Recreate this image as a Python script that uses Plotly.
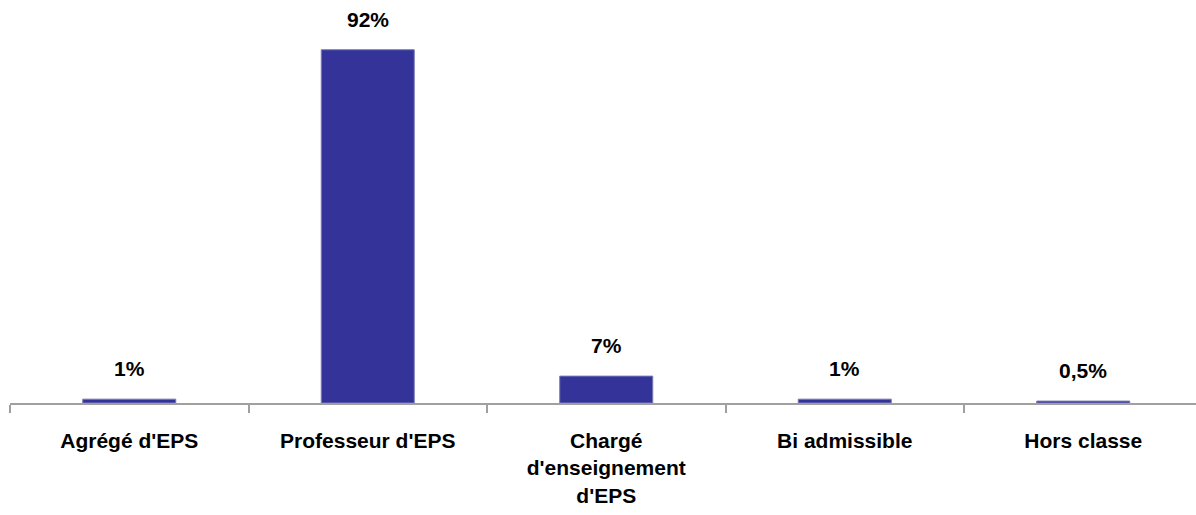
import plotly.graph_objects as go

categories = ["Agrégé d'EPS", "Professeur d'EPS", "Chargé<br>d'enseignement<br>d'EPS", "Bi admissible", "Hors classe"]
values = [1, 92, 7, 1, 0.5]
value_labels = ["1%", "92%", "7%", "1%", "0,5%"]

FONT = "Liberation Sans, Arial, sans-serif"

fig = go.Figure()
fig.add_trace(go.Bar(
    x=categories, y=values, width=0.39,
    marker=dict(color="#333399", line=dict(color="#7a7ab4", width=1)),
    hoverinfo="skip",
))
for c, v, t in zip(categories, values, value_labels):
    fig.add_annotation(x=c, y=v, text=t, showarrow=False, yanchor="bottom", yshift=17,
                       font=dict(family=FONT, size=21, color="#000000", weight="bold"))

W = 1196
ml = 10
cat_w = 238.5
fig.update_layout(
    width=W, height=515,
    margin=dict(l=ml, r=0, t=19, b=112),
    paper_bgcolor="white", plot_bgcolor="white",
    showlegend=False,
    font=dict(family=FONT, size=21, color="#000000"),
    xaxis=dict(type="category", range=[-0.5, -0.5 + (W - ml) / cat_w],
               showline=True, linecolor="#a0a0a0", linewidth=1.5,
               ticks="outside", tickson="boundaries", ticklen=8, tickcolor="#a0a0a0", tickwidth=1.5,
               ticklabelstandoff=18,
               tickfont=dict(family=FONT, size=21, color="#000000", weight="bold"),
               showgrid=False, zeroline=False),
    yaxis=dict(range=[0, 100], visible=False, showgrid=False, zeroline=False),
)
fig.write_html("out.html", config={"displayModeBar": False},
               post_script="document.body.style.margin='0';document.body.style.padding='0';")
